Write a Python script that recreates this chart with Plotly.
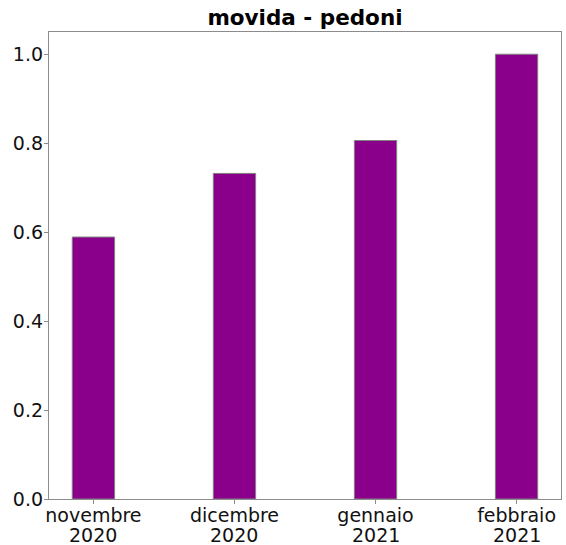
import plotly.graph_objects as go

months = ["novembre", "dicembre", "gennaio", "febbraio"]
years = ["2020", "2020", "2021", "2021"]
values = [0.589, 0.732, 0.806, 1.0]
y_ticks = [0.0, 0.2, 0.4, 0.6, 0.8, 1.0]
y_tick_labels = ["0.0", "0.2", "0.4", "0.6", "0.8", "1.0"]
title = "movida - pedoni"

x_pos = list(range(len(months)))
FONT = "DejaVu Sans"

fig = go.Figure()
fig.add_trace(go.Bar(
    x=x_pos, y=values, width=0.3,
    marker=dict(color="#8B008B", line=dict(color="#808080", width=1)),
))

axis_common = dict(
    showgrid=False, zeroline=False, showline=True, mirror=True,
    linecolor="#8c8c8c", linewidth=1.3, automargin=False,
    ticks="outside", ticklen=4, tickcolor="#8c8c8c", tickwidth=1,
    tickfont=dict(family=FONT, size=19, color="#111111"),
)

# second line of each category label (year)
annotations = [
    dict(x=xp, y=0, xref="x", yref="paper", text=yr, showarrow=False,
         xanchor="center", yanchor="top", yshift=-23,
         font=dict(family=FONT, size=19, color="#111111"))
    for xp, yr in zip(x_pos, years)
]

fig.update_layout(
    width=566, height=545,
    margin=dict(l=49, r=5, t=32, b=46),
    paper_bgcolor="white", plot_bgcolor="white",
    showlegend=False,
    title=dict(text="<b>" + title + "</b>", x=0.5, xanchor="center", xref="paper",
               y=1 - 17 / 545, yanchor="middle",
               font=dict(family=FONT, size=21.5, color="black")),
    xaxis=dict(range=[-0.315, 3.315], tickvals=x_pos, ticktext=months,
               ticklabelstandoff=-5, **axis_common),
    yaxis=dict(range=[0, 1.05], tickvals=y_ticks, ticktext=y_tick_labels,
               ticklabelstandoff=-3, **axis_common),
    annotations=annotations,
)

fig.write_html("out.html", config={"displayModeBar": False},
               post_script="document.body.style.margin='0';document.body.style.overflow='hidden';")
